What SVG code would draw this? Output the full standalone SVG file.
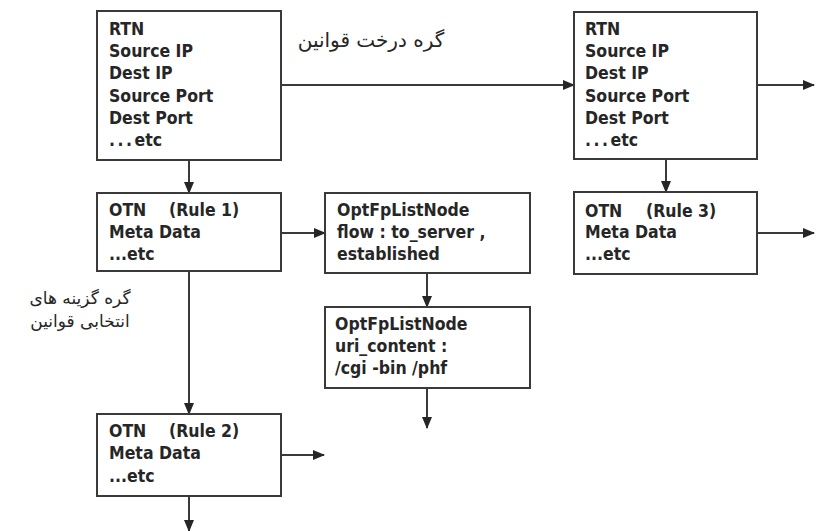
<svg xmlns="http://www.w3.org/2000/svg" width="816" height="531" viewBox="0 0 816 531">
<style>
.box{fill:#fff;stroke:#3a3a3a;stroke-width:2}
.t{font-family:"DejaVu Sans Condensed","DejaVu Sans",sans-serif;font-stretch:condensed;font-weight:bold;font-size:17.5px;fill:#262626}
.fa{font-family:"DejaVu Sans",sans-serif;font-size:20px;fill:#262626}
.fa2{font-family:"DejaVu Sans",sans-serif;font-size:17px;fill:#262626}
.c{fill:none;stroke:#3a3a3a;stroke-width:2}
</style>
<defs>
<marker id="ah" markerWidth="12" markerHeight="10" refX="11" refY="5" orient="auto" markerUnits="userSpaceOnUse">
<path d="M0,0 L12,5 L0,10 Z" fill="#262626"/>
</marker>
</defs>
<rect width="816" height="531" fill="#fff"/>
<g id="connectors">
<path class="c" d="M281,85 H574" marker-end="url(#ah)"/>
<path class="c" d="M189,160 V193" marker-end="url(#ah)"/>
<path class="c" d="M757,85 H814" marker-end="url(#ah)"/>
<path class="c" d="M666,159 V192" marker-end="url(#ah)"/>
<path class="c" d="M757,233 H814" marker-end="url(#ah)"/>
<path class="c" d="M281,233 H325" marker-end="url(#ah)"/>
<path class="c" d="M189,271 V414" marker-end="url(#ah)"/>
<path class="c" d="M427,273 V307" marker-end="url(#ah)"/>
<path class="c" d="M427,388 V428" marker-end="url(#ah)"/>
<path class="c" d="M281,455 H324" marker-end="url(#ah)"/>
<path class="c" d="M189,496 V531" marker-end="url(#ah)"/>
</g>
<g id="rtn1">
<rect class="box" x="97" y="11" width="184" height="149"/>
<text class="t" x="109" y="35">RTN</text>
<text class="t" x="109" y="57">Source IP</text>
<text class="t" x="109" y="79">Dest IP</text>
<text class="t" x="109" y="102">Source Port</text>
<text class="t" x="109" y="124">Dest Port</text>
<text class="t" x="109" y="146"><tspan letter-spacing="2.5">...</tspan>etc</text>
</g>
<g id="rtn2">
<rect class="box" x="574" y="12" width="183" height="147"/>
<text class="t" x="585" y="35">RTN</text>
<text class="t" x="585" y="57">Source IP</text>
<text class="t" x="585" y="79">Dest IP</text>
<text class="t" x="585" y="102">Source Port</text>
<text class="t" x="585" y="124">Dest Port</text>
<text class="t" x="585" y="146"><tspan letter-spacing="2.5">...</tspan>etc</text>
</g>
<g id="otn1">
<rect class="box" x="97" y="193" width="184" height="78"/>
<text class="t" x="109" y="216">OTN<tspan x="169">(Rule 1)</tspan></text>
<text class="t" x="109" y="238">Meta Data</text>
<text class="t" x="109" y="260">...etc</text>
</g>
<g id="otn3">
<rect class="box" x="574" y="192" width="183" height="82"/>
<text class="t" x="585" y="217">OTN<tspan x="646">(Rule 3)</tspan></text>
<text class="t" x="585" y="238">Meta Data</text>
<text class="t" x="585" y="260">...etc</text>
</g>
<g id="optfp1">
<rect class="box" x="325" y="193" width="205" height="80"/>
<text class="t" x="337" y="216">OptFpListNode</text>
<text class="t" x="337" y="238">flow : to_server ,</text>
<text class="t" x="337" y="260">established</text>
</g>
<g id="optfp2">
<rect class="box" x="325" y="307" width="205" height="81"/>
<text class="t" x="335" y="330">OptFpListNode</text>
<text class="t" x="335" y="352">uri_content :</text>
<text class="t" x="335" y="374">/cgi -bin /phf</text>
</g>
<g id="otn2">
<rect class="box" x="97" y="414" width="184" height="82"/>
<text class="t" x="109" y="437">OTN<tspan x="169">(Rule 2)</tspan></text>
<text class="t" x="109" y="459">Meta Data</text>
<text class="t" x="109" y="482">...etc</text>
</g>
<g id="labels">
<text class="fa" x="371" y="47" text-anchor="middle" direction="rtl">گره درخت قوانین</text>
<text class="fa2" x="80" y="304" text-anchor="middle" direction="rtl">گره گزینه های</text>
<text class="fa2" x="80" y="327" text-anchor="middle" direction="rtl">انتخابی قوانین</text>
</g>
</svg>
